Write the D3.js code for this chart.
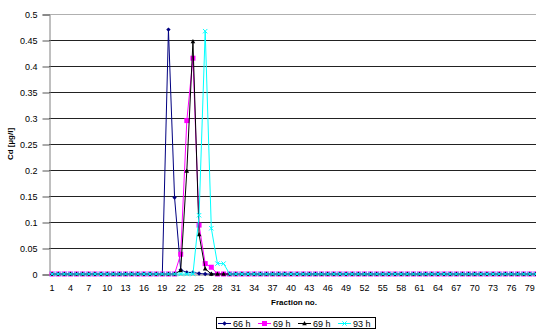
<!DOCTYPE html>
<html><head><meta charset="utf-8">
<script src="https://cdn.jsdelivr.net/npm/d3@7"></script>
<style>
body{margin:0;background:#fff;overflow:hidden}
text{font-family:Arial,"Liberation Sans",sans-serif}
</style></head>
<body><svg id="c" width="536" height="329"></svg>
<script>
const fractions = d3.range(1, 81);
const xTickLabels = d3.range(1, 80, 3);
const yTicks = [0,0.05,0.1,0.15,0.2,0.25,0.3,0.35,0.4,0.45,0.5];
const seriesNames = ["66 h", "69 h", "69 h", "93 h"];
const seriesColors = ["#000080", "#ff00ff", "#000000", "#00ffff"];
const seriesMarkers = ["diamond", "square", "triangle", "x"];
// nonzero values by fraction number; all other fractions are 0
const s66 = {20:0.47, 21:0.147, 22:0.008, 23:0.003, 24:0.003, 25:0.001};
const s69a = {22:0.038, 23:0.295, 24:0.415, 25:0.094, 26:0.02, 27:0.013};
const s69b = {22:0.007, 23:0.198, 24:0.447, 25:0.076, 26:0.01};
const s93 = {25:0.113, 26:0.467, 27:0.088, 28:0.02, 29:0.02};
const seriesValues = [s66, s69a, s69b, s93].map(o => fractions.map(f => o[f] || 0));

const svg = d3.select("#c");
const L = 49, R = 539, T = 14, B = 274;
const x = d3.scaleBand().domain(fractions).range([L, R]);
const cx = f => x(f) + x.bandwidth()/2;
const y = d3.scaleLinear().domain([0, 0.5]).range([B, T]);

// gridlines
svg.append("g").selectAll("line").data(yTicks.filter(v => v > 0)).join("line")
  .attr("x1", L).attr("x2", 536).attr("y1", d => y(d) + 0.5).attr("y2", d => y(d) + 0.5)
  .attr("stroke", d => d === 0.5 ? "#b0b0b0" : "#222").attr("stroke-width", 1);

// y axis
const ya = svg.append("g").attr("transform", `translate(${L + 0.5},0.5)`)
  .call(d3.axisLeft(y).tickValues(yTicks).tickSize(7).tickPadding(5).tickFormat(d => String(+d.toFixed(2))));
ya.select(".domain").attr("stroke", "#808080");
ya.selectAll(".tick line").attr("stroke", "#555");
ya.selectAll("text").attr("font-size", 9).attr("fill", "#000");

// x axis
const xa = svg.append("g").attr("transform", `translate(0,${B + 0.5})`)
  .call(d3.axisBottom(x).tickValues(xTickLabels).tickSize(0).tickPadding(10));
xa.select(".domain").attr("stroke", "#808080");
xa.selectAll("text").attr("font-size", 9).attr("fill", "#000");

// titles
svg.append("text").attr("transform", "translate(13,144) rotate(-90)").attr("text-anchor", "middle")
  .attr("font-size", 8).attr("font-weight", "bold").text("Cd [µg/l]");
svg.append("text").attr("x", 294).attr("y", 305).attr("text-anchor", "middle")
  .attr("font-size", 8).attr("font-weight", "bold").text("Fraction no.");

function marker(g, type, color, px, py) {
  if (type === "diamond") g.append("path").attr("d", `M${px},${py-2.2}L${px+2.2},${py}L${px},${py+2.2}L${px-2.2},${py}Z`).attr("fill", color);
  else if (type === "square") g.append("rect").attr("x", px-2.5).attr("y", py-2.5).attr("width", 5).attr("height", 5).attr("fill", color);
  else if (type === "triangle") g.append("path").attr("d", `M${px},${py-2.5}L${px+2.3},${py+1.8}L${px-2.3},${py+1.8}Z`).attr("fill", color);
  else g.append("path").attr("d", `M${px-2.2},${py-2.2}L${px+2.2},${py+2.2}M${px+2.2},${py-2.2}L${px-2.2},${py+2.2}`).attr("stroke", color).attr("stroke-width", 1);
}

const line = d3.line().x((d, i) => cx(fractions[i])).y(d => y(d));
seriesValues.forEach((vals, si) => {
  const g = svg.append("g");
  g.append("path").attr("d", line(vals)).attr("fill", "none").attr("stroke", seriesColors[si]).attr("stroke-width", 1);
  vals.forEach((v, i) => marker(g, seriesMarkers[si], seriesColors[si], cx(fractions[i]), y(v)));
});

// legend
const lg = svg.append("g");
lg.append("rect").attr("x", 216.5).attr("y", 317.5).attr("width", 159).attr("height", 11).attr("fill", "#fff").attr("stroke", "#000");
const lx = [217, 257, 297, 337];
seriesNames.forEach((n, i) => {
  const g = lg.append("g");
  g.append("line").attr("x1", lx[i] + 1).attr("x2", lx[i] + 14).attr("y1", 323.5).attr("y2", 323.5).attr("stroke", seriesColors[i]);
  marker(g, seriesMarkers[i], seriesColors[i], lx[i] + 7.5, 323.5);
  g.append("text").attr("x", lx[i] + 16).attr("y", 326.5).attr("font-size", 9).text(n);
});
</script></body></html>
